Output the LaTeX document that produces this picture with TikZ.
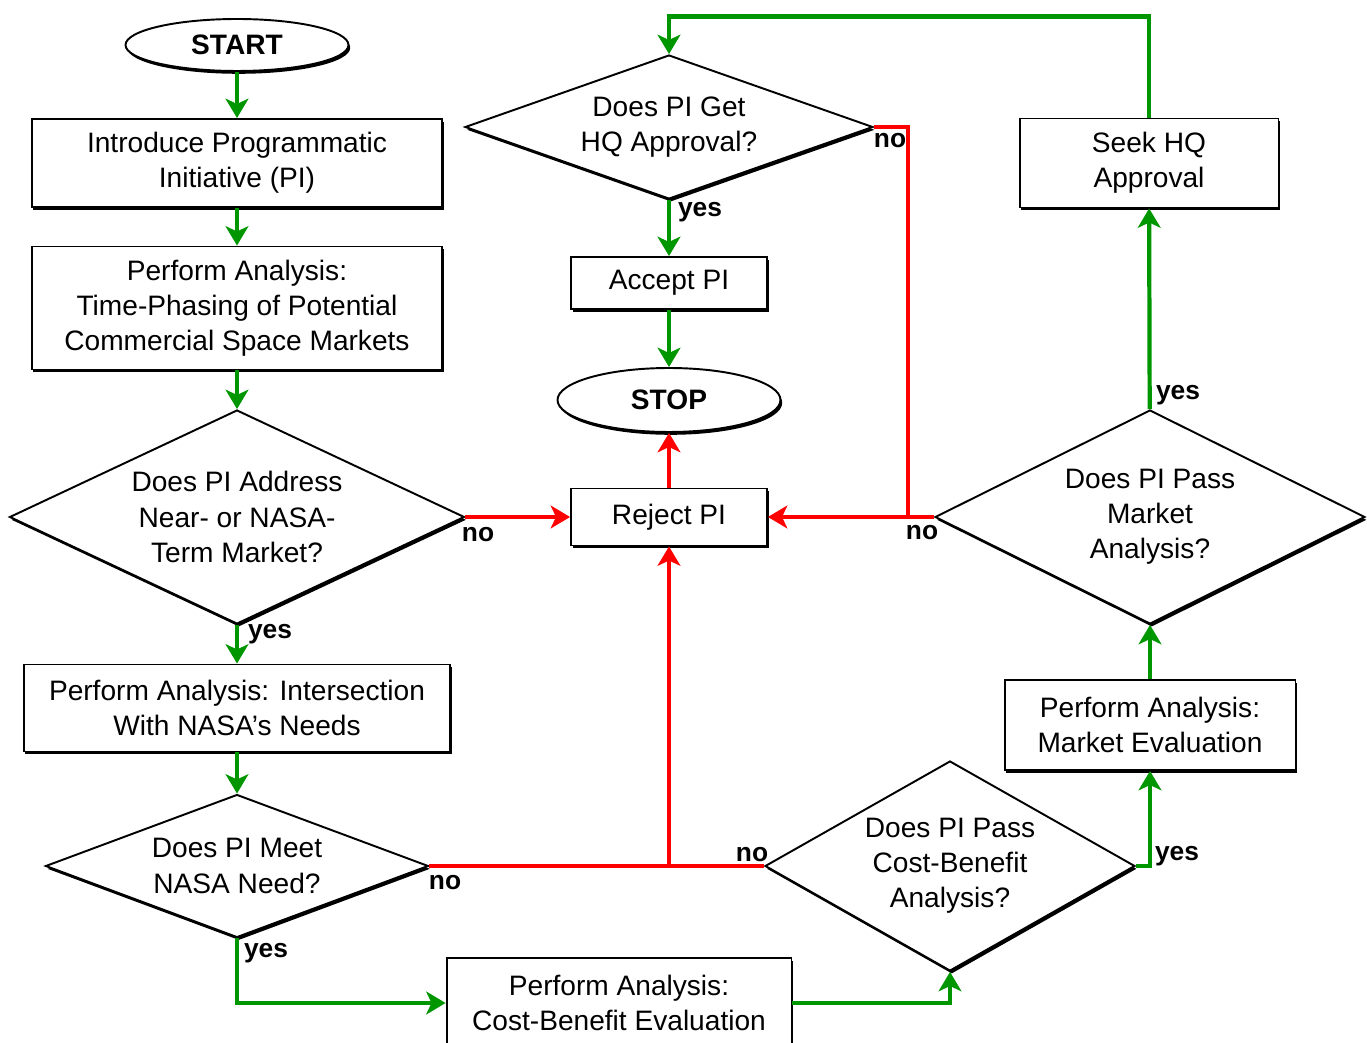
\documentclass[tikz,border=0pt]{standalone}
\usepackage{fontspec}
\setmainfont{Liberation Sans}
\usetikzlibrary{positioning, arrows.meta, shapes.geometric, shadows}
\definecolor{flowgreen}{RGB}{0,150,0}
\definecolor{flowred}{RGB}{255,0,0}

\begin{document}
\begin{tikzpicture}[
    x=0.02cm, y=-0.02cm,
    box/.style={rectangle, draw=black, fill=white, line width=1.1pt, align=center, inner sep=2pt, font=\fontsize{16}{20}\selectfont, drop shadow={shadow xshift=1pt, shadow yshift=-1.6pt, fill=black, opacity=1}},
    term/.style={box, ellipse, font=\bfseries\fontsize{16}{20}\selectfont},
    decision/.style={box, diamond, inner sep=0pt},
    yesline/.style={draw=flowgreen, line width=2.4pt, -{Stealth[length=11pt, width=13pt, inset=3pt]}},
    noline/.style={yesline, draw=flowred},
    tag/.style={font=\bfseries\fontsize{15}{15}\selectfont, inner sep=0pt}
]
\useasboundingbox (0,0) rectangle (1367,1043);

% left column
\node[term, minimum width=4.46cm, minimum height=1.04cm] (start) at (237,45) {START};
\node[box, minimum width=8.22cm, minimum height=1.76cm] (intro) at (237,163) {Introduce Programmatic\\Initiative (PI)};
\node[box, minimum width=8.22cm, minimum height=2.46cm] (phasing) at (237,308) {Perform Analysis:\\Time-Phasing of Potential\\Commercial Space Markets};
\node[decision, minimum width=9.1cm, minimum height=4.28cm, aspect=2.13] (address) at (237,517) {Does PI Address\\Near- or NASA-\\Term Market?};
\node[box, minimum width=8.54cm, minimum height=1.74cm] (needs) at (237,708) {Perform Analysis: Intersection\\With NASA's Needs};
\node[decision, minimum width=7.66cm, minimum height=2.86cm, aspect=2.68] (meet) at (237,866) {Does PI Meet\\NASA Need?};

% bottom and right
\node[box, minimum width=6.9cm, minimum height=1.8cm] (cbeval) at (619,1003) {Perform Analysis:\\Cost-Benefit Evaluation};
\node[decision, minimum width=7.4cm, minimum height=4.2cm, aspect=1.76] (cbpass) at (950,866) {Does PI Pass\\Cost-Benefit\\Analysis?};
\node[box, minimum width=5.82cm, minimum height=1.8cm] (mkteval) at (1150,725) {Perform Analysis:\\Market Evaluation};
\node[decision, minimum width=8.6cm, minimum height=4.28cm, aspect=2] (mktpass) at (1150,517) {Does PI Pass\\Market\\Analysis?};
\node[box, minimum width=5.18cm, minimum height=1.78cm] (seek) at (1149,163) {Seek HQ\\Approval};

% middle column
\node[decision, minimum width=8.16cm, minimum height=2.88cm, aspect=2.83] (hq) at (669,127) {Does PI Get\\HQ Approval?};
\node[box, minimum width=3.92cm, minimum height=1.04cm] (accept) at (669,283) {Accept PI};
\node[term, minimum width=4.46cm, minimum height=1.28cm] (stop) at (669,400) {STOP};
\node[box, minimum width=3.92cm, minimum height=1.14cm] (reject) at (669,517) {Reject PI};

\coordinate (hqturn) at (908,517);
\coordinate (cbjoin) at (669,866);

% yes paths
\draw[yesline] (start) -- (intro);
\draw[yesline] (intro) -- (phasing);
\draw[yesline] (phasing) -- (address);
\draw[yesline] (address) -- (needs);
\draw[yesline] (needs) -- (meet);
\draw[yesline] (meet.south) |- (cbeval.west);
\draw[yesline] (cbeval.east) -| (cbpass.south);
\draw[yesline] (cbpass.east) -| (mkteval.south);
\draw[yesline] (mkteval) -- (mktpass);
\draw[yesline] (mktpass) -- (seek);
\draw[yesline] (seek.north) -- ++(0,-101) -| (hq.north);
\draw[yesline] (hq) -- (accept);
\draw[yesline] (accept) -- (stop);

% no paths
\draw[noline] (reject) -- (stop);
\draw[noline] (address.east) -- (reject.west);
\draw[noline] (mktpass.west) -- (reject.east);
\draw[noline, -] (hq.east) -| (hqturn);
\draw[noline, -] (meet.east) -- (cbpass.west);
\draw[noline] (cbjoin) -- (reject.south);

% labels
\node[tag] (hqno) at (890,141) {no};
\node[tag] (hqyes) at (700,212) {yes};
\node[tag] (addrno) at (478,535) {no};
\node[tag] (addryes) at (270,634) {yes};
\node[tag] (passno) at (922,533) {no};
\node[tag] (passyes) at (1178,395) {yes};
\node[tag] (meetno) at (445,883) {no};
\node[tag] (meetyes) at (266,953) {yes};
\node[tag] (cbno) at (752,855) {no};
\node[tag] (cbyes) at (1177,856) {yes};
\end{tikzpicture}
\end{document}
